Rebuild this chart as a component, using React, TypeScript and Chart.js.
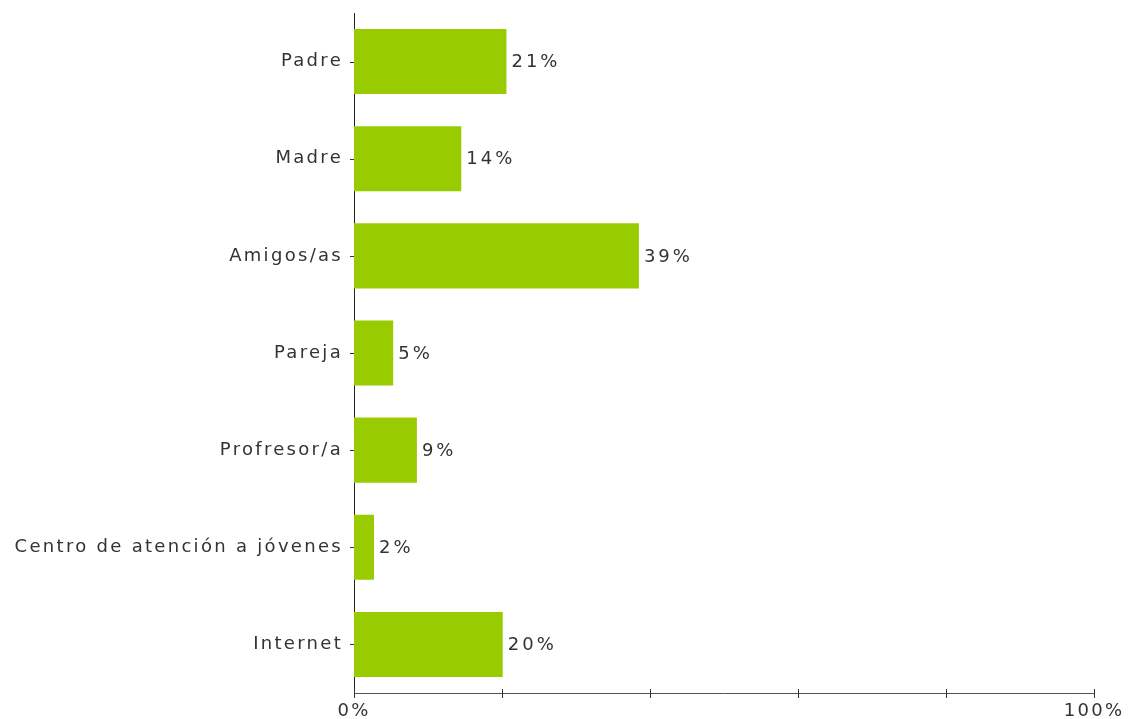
import React, { useEffect, useRef } from "react";
import { Chart, registerables } from "chart.js";

Chart.register(...registerables);

const categories = [
  "Padre",
  "Madre",
  "Amigos/as",
  "Pareja",
  "Profresor/a",
  "Centro de atención a jóvenes",
  "Internet",
];
const values = [20.6, 14.5, 38.5, 5.3, 8.5, 2.7, 20.1];
const valueLabels = ["21%", "14%", "39%", "5%", "9%", "2%", "20%"];
const xTickValues = [0, 20, 40, 60, 80, 100];
const xTickLabels = ["0%", "", "", "", "", "100%"];

const FONT = "DejaVu Sans";
const TEXT = "#333333";
const FONT_SIZE = 18;

const spacingPlugin = {
  id: "spacing",
  beforeLayout(chart: any) {
    (chart.ctx as any).letterSpacing = "2.3px";
  },
  beforeDraw(chart: any) {
    (chart.ctx as any).letterSpacing = "2.3px";
  },
};

const marksPlugin = {
  id: "marks",
  afterDraw(chart: any) {
    const ctx = chart.ctx;
    const xs = chart.scales.x;
    const ys = chart.scales.y;
    const area = chart.chartArea;
    ctx.save();
    ctx.lineWidth = 1;
    ctx.strokeStyle = "#333";
    ctx.beginPath();
    xTickValues.forEach((v) => {
      const px = Math.round(xs.getPixelForValue(v)) + 0.5;
      ctx.moveTo(px, area.bottom - 4);
      ctx.lineTo(px, area.bottom + 5);
    });
    categories.forEach((_, i) => {
      const py = Math.round(ys.getPixelForValue(i)) + 0.5;
      ctx.moveTo(area.left - 4, py);
      ctx.lineTo(area.left, py);
    });
    ctx.stroke();

    // value labels
    (ctx as any).letterSpacing = "3px";
    ctx.font = `${FONT_SIZE}px "${FONT}"`;
    ctx.fillStyle = TEXT;
    ctx.textAlign = "left";
    ctx.textBaseline = "middle";
    const meta = chart.getDatasetMeta(0);
    meta.data.forEach((bar: any, i: number) => {
      ctx.fillText(valueLabels[i], bar.x + 5, bar.y + 1);
    });
    ctx.restore();
  },
};

export default function App() {
  const ref = useRef<HTMLCanvasElement | null>(null);

  useEffect(() => {
    if (!ref.current) return;
    const chart = new Chart(ref.current, {
      type: "bar",
      data: {
        labels: categories,
        datasets: [
          {
            data: values,
            backgroundColor: "#99CC00",
            borderWidth: 0,
            barPercentage: 0.67,
            categoryPercentage: 1,
          },
        ],
      },
      options: {
        indexAxis: "y",
        animation: false,
        responsive: true,
        maintainAspectRatio: false,
        layout: { padding: { left: 0, top: 13, right: 39, bottom: 0 } },
        plugins: {
          legend: { display: false },
          tooltip: { enabled: false },
        },
        scales: {
          x: {
            min: 0,
            max: 100,
            afterBuildTicks: (scale: any) => {
              scale.ticks = xTickValues.map((v) => ({ value: v }));
            },
            afterFit: (scale: any) => {
              scale.height = 26;
              scale.paddingLeft = 0;
              scale.paddingRight = 0;
            },
            grid: { display: false, drawTicks: true, tickLength: 4 },
            border: { display: true, color: "#555", width: 1 },
            ticks: {
              autoSkip: false,
              maxRotation: 0,
              padding: 4,
              color: TEXT,
              font: { family: FONT, size: FONT_SIZE },
              callback: (v: any) => {
                const idx = xTickValues.indexOf(Number(v));
                return idx >= 0 ? xTickLabels[idx] : "";
              },
            },
          },
          y: {
            afterFit: (scale: any) => {
              scale.width = 354;
              scale.paddingTop = 0;
              scale.paddingBottom = 0;
            },
            grid: { display: false, drawTicks: true, tickLength: 4, offset: false },
            border: { display: true, color: "#222", width: 1 },
            ticks: {
              autoSkip: false,
              padding: 7,
              color: TEXT,
              font: { family: FONT, size: FONT_SIZE },
            },
          },
        },
      },
      plugins: [spacingPlugin, marksPlugin],
    });
    return () => chart.destroy();
  }, []);

  return (
    <div
      style={{
        position: "fixed",
        left: 0,
        top: 0,
        width: "1133px",
        height: "719px",
        background: "#fff",
      }}
    >
      <canvas ref={ref} />
    </div>
  );
}
